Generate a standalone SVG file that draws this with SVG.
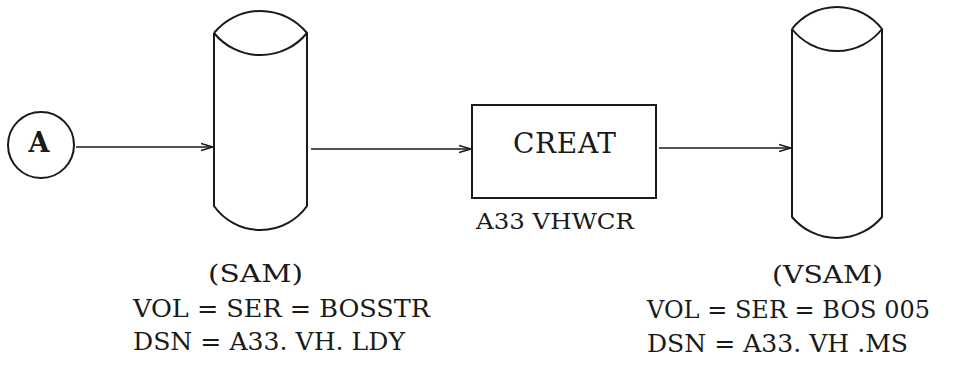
<svg xmlns="http://www.w3.org/2000/svg" width="972" height="375" viewBox="0 0 972 375">
<style>
.shape{fill:none;stroke:#1a1a1a;stroke-width:2}
.conn{fill:none;stroke:#1a1a1a;stroke-width:1.6}
text{font-family:"DejaVu Serif","Liberation Serif",serif;fill:#1a1a1a}
.lbl{font-size:24px}
</style>
<defs>
<marker id="arr" viewBox="0 0 12 10" refX="12" refY="5" markerWidth="12" markerHeight="10" markerUnits="userSpaceOnUse" orient="auto">
<path d="M0,1.5 L12,5 L0,8.5" fill="none" stroke="#1a1a1a" stroke-width="1.5"/>
</marker>
</defs>
<rect width="972" height="375" fill="#fff"/>
<g id="nodeA">
<circle class="shape" cx="41" cy="145" r="33"/>
<text x="39" y="152" font-size="27" font-weight="bold" text-anchor="middle">A</text>
</g>
<g id="sam">
<path class="shape" d="M214,33 A60,60 0 0 1 307,33 A60,60 0 0 1 214,33 M214,33 L214,206 A57,57 0 0 0 307,206 L307,33"/>
<text class="lbl" x="208" y="282" textLength="95" lengthAdjust="spacingAndGlyphs">(SAM)</text>
<text class="lbl" x="133" y="317" textLength="297" lengthAdjust="spacingAndGlyphs">VOL = SER = BOSSTR</text>
<text class="lbl" x="133" y="350" textLength="272" lengthAdjust="spacingAndGlyphs">DSN = A33. VH. LDY</text>
</g>
<g id="creat">
<rect class="shape" x="472" y="105" width="184" height="93"/>
<text x="513" y="153" font-size="28" textLength="103" lengthAdjust="spacing">CREAT</text>
<text x="476" y="229" font-size="23" textLength="158" lengthAdjust="spacingAndGlyphs">A33 VHWCR</text>
</g>
<g id="vsam">
<path class="shape" d="M792,29 A57,57 0 0 1 882,29 A57,57 0 0 1 792,29 M792,29 L792,217 A58.7,58.7 0 0 0 882,217 L882,29"/>
<text class="lbl" x="772" y="283" textLength="111" lengthAdjust="spacingAndGlyphs">(VSAM)</text>
<text class="lbl" x="647" y="318" textLength="283" lengthAdjust="spacingAndGlyphs">VOL = SER = BOS 005</text>
<text class="lbl" x="647" y="352" textLength="261" lengthAdjust="spacingAndGlyphs">DSN = A33. VH .MS</text>
</g>
<g id="connectors">
<line class="conn" x1="76" y1="147" x2="213" y2="147" marker-end="url(#arr)"/>
<line class="conn" x1="311" y1="149" x2="471" y2="149" marker-end="url(#arr)"/>
<line class="conn" x1="659" y1="148" x2="791" y2="148" marker-end="url(#arr)"/>
</g>
</svg>
